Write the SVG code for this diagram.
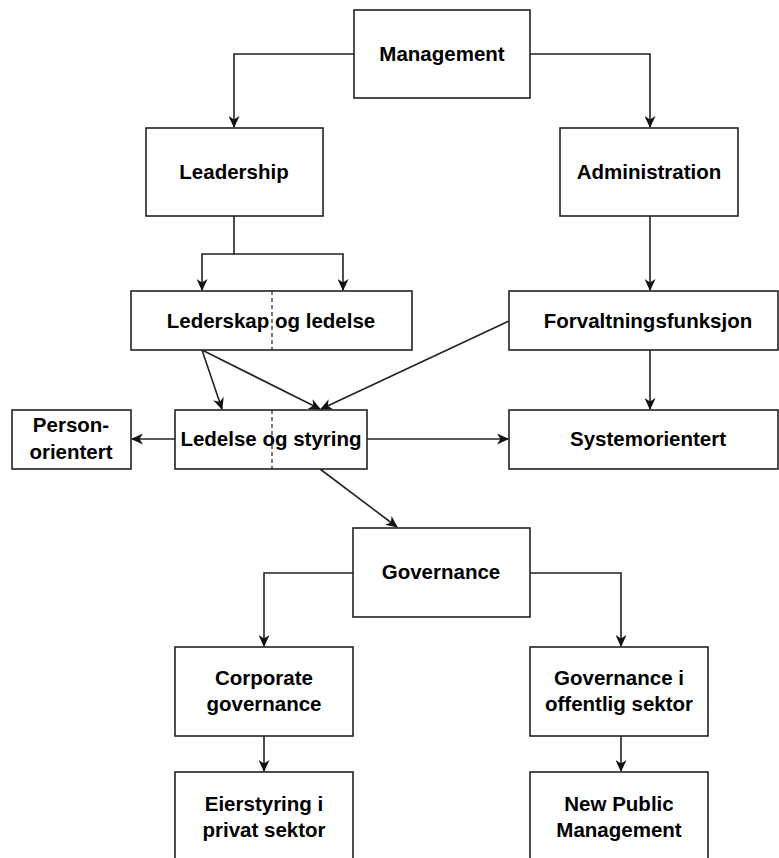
<svg xmlns="http://www.w3.org/2000/svg" width="779" height="858" viewBox="0 0 779 858">
<style>
.box{fill:#fff;stroke:#222;stroke-width:1.6}
.t{font-family:"Liberation Sans",Arial,sans-serif;font-weight:bold;font-size:20.5px;fill:#000;text-anchor:middle;dominant-baseline:central}
.c{fill:none;stroke:#222;stroke-width:1.6}
.d{fill:none;stroke:#222;stroke-width:1.2;stroke-dasharray:4,3}
</style>
<defs>
<marker id="a" viewBox="0 0 12 11" refX="11" refY="5.5" markerWidth="12" markerHeight="11" markerUnits="userSpaceOnUse" orient="auto">
<path d="M0,0 L12,5.5 L0,11 L3.5,5.5 z" fill="#111"/>
</marker>
</defs>
<rect width="779" height="858" fill="#fff"/>
<g id="connectors">
<path class="c" d="M354,54 H234 V127" marker-end="url(#a)"/>
<path class="c" d="M530,54 H650 V127" marker-end="url(#a)"/>
<path class="c" d="M234,216 V254 H202 V290" marker-end="url(#a)"/>
<path class="c" d="M234,254 H343 V290" marker-end="url(#a)"/>
<path class="c" d="M650,216 V290" marker-end="url(#a)"/>
<path class="c" d="M202,350 L222,409" marker-end="url(#a)"/>
<path class="c" d="M202,350 L320,409" marker-end="url(#a)"/>
<path class="c" d="M509,321 L321,409" marker-end="url(#a)"/>
<path class="c" d="M650,350 V409" marker-end="url(#a)"/>
<path class="c" d="M175,439 H132" marker-end="url(#a)"/>
<path class="c" d="M367,439 H508" marker-end="url(#a)"/>
<path class="c" d="M320,469 L397,527" marker-end="url(#a)"/>
<path class="c" d="M353,573 H264 V646" marker-end="url(#a)"/>
<path class="c" d="M530,573 H621 V646" marker-end="url(#a)"/>
<path class="c" d="M264,736 V771" marker-end="url(#a)"/>
<path class="c" d="M621,736 V771" marker-end="url(#a)"/>
</g>
<g id="management"><rect class="box" x="354" y="10" width="176" height="88"/><text class="t" x="442" y="53">Management</text></g>
<g id="leadership"><rect class="box" x="146" y="128" width="177" height="88"/><text class="t" x="234" y="171">Leadership</text></g>
<g id="administration"><rect class="box" x="560" y="128" width="178" height="88"/><text class="t" x="649" y="171">Administration</text></g>
<g id="lederskap"><rect class="box" x="131" y="291" width="281" height="59"/><line class="d" x1="272" y1="291" x2="272" y2="350"/><text class="t" x="271" y="320">Lederskap og ledelse</text></g>
<g id="forvaltning"><rect class="box" x="509" y="291" width="269" height="59"/><text class="t" x="648" y="320">Forvaltningsfunksjon</text></g>
<g id="ledelse"><rect class="box" x="175" y="410" width="192" height="59"/><line class="d" x1="272" y1="410" x2="272" y2="469"/><text class="t" x="271" y="438">Ledelse og styring</text></g>
<g id="person"><rect class="box" x="12" y="410" width="119" height="59"/><text class="t" x="71" y="424">Person-</text><text class="t" x="71" y="451">orientert</text></g>
<g id="system"><rect class="box" x="509" y="410" width="269" height="59"/><text class="t" x="648" y="438">Systemorientert</text></g>
<g id="governance"><rect class="box" x="353" y="528" width="177" height="89"/><text class="t" x="441" y="571">Governance</text></g>
<g id="corporate"><rect class="box" x="175" y="647" width="178" height="89"/><text class="t" x="264" y="677">Corporate</text><text class="t" x="264" y="703">governance</text></g>
<g id="offentlig"><rect class="box" x="530" y="647" width="178" height="89"/><text class="t" x="619" y="677">Governance i</text><text class="t" x="619" y="703">offentlig sektor</text></g>
<g id="eierstyring"><rect class="box" x="175" y="772" width="178" height="90"/><text class="t" x="264" y="803">Eierstyring i</text><text class="t" x="264" y="829">privat sektor</text></g>
<g id="npm"><rect class="box" x="530" y="772" width="178" height="90"/><text class="t" x="619" y="803">New Public</text><text class="t" x="619" y="829">Management</text></g>
</svg>
